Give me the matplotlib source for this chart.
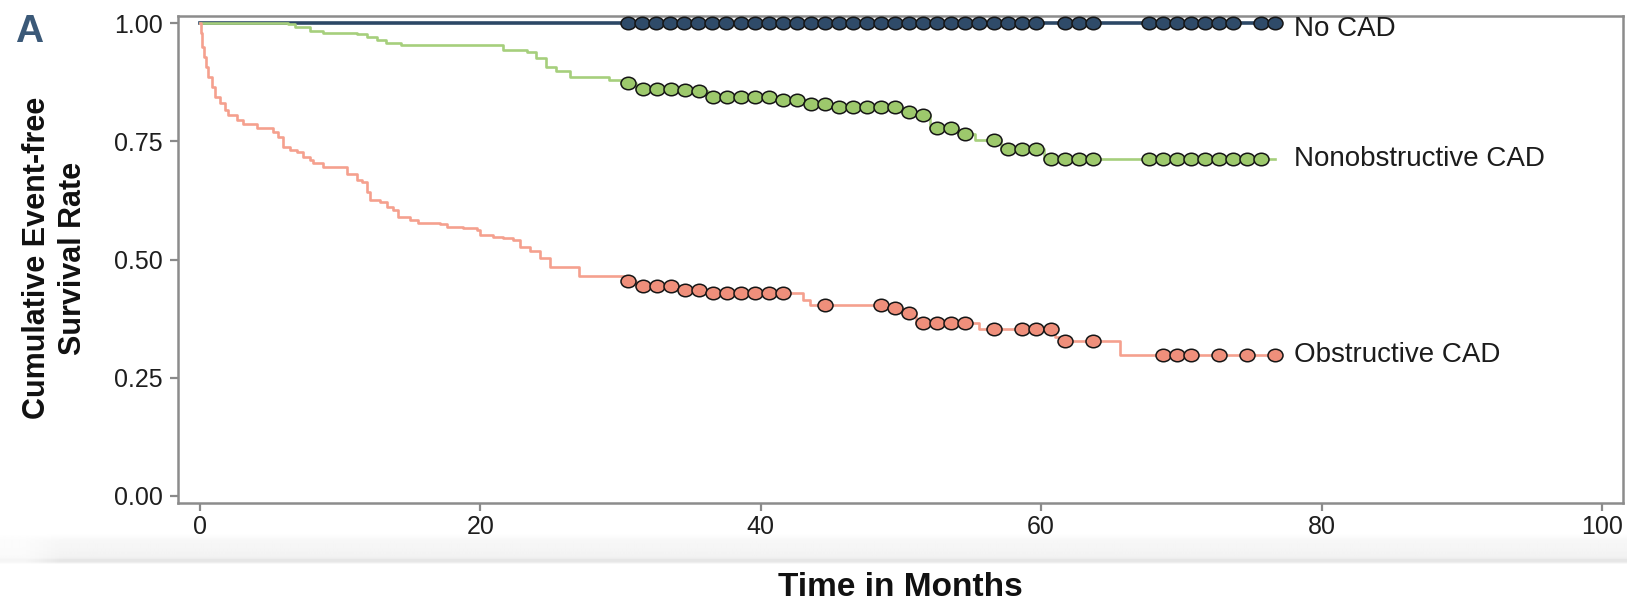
import numpy as np
import matplotlib.pyplot as plt
from matplotlib.path import Path
from matplotlib.transforms import Affine2D

plt.rcParams['font.family'] = ['Liberation Sans', 'DejaVu Sans']

# Kaplan-Meier steps: event time (months) and survival after the event
no_cad_events = [0.0]
no_cad_surv = [1.0]
no_cad_censor = [30.5, 31.5, 32.5, 33.5, 34.5, 35.5, 36.5, 37.5, 38.6, 39.6,
                 40.6, 41.6, 42.6, 43.6, 44.6, 45.6, 46.6, 47.6, 48.6, 49.6,
                 50.6, 51.6, 52.6, 53.6, 54.6, 55.6, 56.6, 57.6, 58.6, 59.6,
                 61.7, 62.7, 63.7,
                 67.7, 68.7, 69.7, 70.7, 71.7, 72.7, 73.7,
                 75.7, 76.7]

nonobs_events = [0.0, 6.3, 6.8, 7.85, 8.8, 11.2, 11.9, 12.6, 13.3, 14.3, 21.6,
                 23.3, 24.0, 24.7, 25.4, 26.4, 29.2, 30.0, 31.1, 34.2, 35.2,
                 36.2, 41.2, 43.2, 45.2, 50.1, 51.1, 52.1, 54.1, 55.3, 57.1,
                 60.2]
nonobs_surv = [1.0, 0.998, 0.993, 0.984, 0.979, 0.977, 0.972, 0.965, 0.958,
               0.953, 0.943, 0.940, 0.926, 0.908, 0.900, 0.886, 0.880, 0.873,
               0.862, 0.859, 0.857, 0.845, 0.838, 0.829, 0.823, 0.813, 0.807,
               0.778, 0.765, 0.753, 0.734, 0.713]
nonobs_censor = [30.5, 31.6, 32.6, 33.6, 34.6, 35.6, 36.6, 37.6, 38.6, 39.6,
                 40.6, 41.6, 42.6, 43.6, 44.6, 45.6, 46.6, 47.6, 48.6, 49.6,
                 50.6, 51.6, 52.6, 53.6, 54.6, 56.6, 57.6, 58.6, 59.6,
                 60.7, 61.7, 62.7, 63.7,
                 67.7, 68.7, 69.7, 70.7, 71.7, 72.7, 73.7, 74.7, 75.7]
nonobs_end = 76.7

obs_events = [0.0, 0.05, 0.15, 0.3, 0.45, 0.6, 0.83, 1.07, 1.43, 1.78, 2.02,
              2.62, 3.09, 4.04, 5.23, 5.59, 5.94, 6.42, 6.89, 7.37, 7.85,
              8.08, 8.8, 10.46, 11.17, 11.53, 11.89, 12.12, 12.84, 13.32,
              13.79, 14.15, 14.98, 15.57, 17.12, 17.59, 18.78, 19.74, 19.97,
              20.92, 21.64, 22.35, 22.83, 23.54, 24.25, 24.97, 27.0, 30.3,
              31.1, 34.1, 36.1, 43.0, 43.5, 49.1, 50.1, 51.1, 55.6, 61.0,
              61.3, 65.6]
obs_surv = [1.0, 0.979, 0.950, 0.929, 0.908, 0.887, 0.866, 0.845, 0.831,
            0.816, 0.806, 0.795, 0.787, 0.778, 0.771, 0.760, 0.739, 0.732,
            0.728, 0.718, 0.711, 0.704, 0.696, 0.682, 0.668, 0.665, 0.644,
            0.626, 0.622, 0.612, 0.605, 0.591, 0.584, 0.577, 0.575, 0.569,
            0.566, 0.562, 0.552, 0.547, 0.545, 0.541, 0.527, 0.519, 0.503,
            0.485, 0.465, 0.4545, 0.4446, 0.4354, 0.4297, 0.415, 0.4037,
            0.3967, 0.388, 0.366, 0.3529, 0.336, 0.328, 0.2978]
obs_censor = [30.5, 31.6, 32.6, 33.6, 34.6, 35.6, 36.6, 37.6, 38.6, 39.6,
              40.6, 41.6, 44.6, 48.6, 49.6, 50.6, 51.6, 52.6, 53.6, 54.6,
              56.6, 58.6, 59.6, 60.7, 61.7, 63.7,
              68.7, 69.7, 70.7, 72.7, 74.7, 76.7]

groups = ['No CAD', 'Nonobstructive CAD', 'Obstructive CAD']
label_y = [0.988, 0.713, 0.2978]
line_colors = ['#2c4866', '#a6cf7c', '#f5a08e']
fill_colors = ['#2f4b69', '#9dc96c', '#ef8f7b']

# slightly wide oval for the censor ticks
oval = Path.unit_circle().transformed(Affine2D().scale(1.2, 1.0))


def km_curve(events, surv, end):
    t = np.array(list(events) + [end])
    s = np.array(list(surv) + [surv[-1]])
    return t, s


def at_time(events, surv, times):
    idx = np.searchsorted(events, times, side='right') - 1
    return np.array(surv)[idx]


fig = plt.figure(figsize=(16.27, 6.02), dpi=100)

# soft grey band under the tick labels
band = fig.add_axes([0, 1 - 566 / 602, 1, 32 / 602], zorder=-5)
prof = np.array([1.0, 0.995, 0.99, 0.985, 0.98, 0.975, 0.97, 0.968, 0.966,
                 0.965, 0.964, 0.963, 0.962, 0.962, 0.961, 0.96, 0.96, 0.958,
                 0.956, 0.955, 0.954, 0.952, 0.95, 0.945, 0.93, 0.905, 0.9,
                 0.905, 0.93, 0.97, 1.0, 1.0])
fade = np.clip(np.linspace(0, 1627, 400) / 60.0, 0.4, 1.0)
img = 1 - np.outer(1 - prof, fade)
band.imshow(img, cmap='gray', vmin=0, vmax=1, aspect='auto',
            interpolation='bilinear')
band.axis('off')

ax = fig.add_axes([178.3 / 1627, 1 - 502.7 / 602, 1444.4 / 1627, 486.7 / 602])

data = [
    (no_cad_events, no_cad_surv, no_cad_censor, 76.7),
    (nonobs_events, nonobs_surv, nonobs_censor, nonobs_end),
    (obs_events, obs_surv, obs_censor, obs_censor[-1]),
]

for i in [2, 1, 0]:
    ev, sv, cens, end = data[i]
    t, s = km_curve(ev, sv, end)
    lw = 2.6 if i == 0 else 1.9
    ax.step(t, s, where='post', color=line_colors[i], lw=lw, zorder=2 + i)
    ax.plot(cens, at_time(ev, sv, cens), ls='none', marker=oval,
            markersize=10.8, markerfacecolor=fill_colors[i],
            markeredgecolor='#151515', markeredgewidth=1.1, zorder=6 + i)
    ax.text(78.0, label_y[i], groups[i], fontsize=20, color='#1c1c1c',
            va='center', ha='left', zorder=10)

ax.set_xlim(-1.55, 101.48)
ax.set_ylim(-0.0142, 1.0154)
ax.set_xticks([0, 20, 40, 60, 80, 100])
ax.set_yticks([0.0, 0.25, 0.5, 0.75, 1.0])
ax.set_yticklabels(['0.00', '0.25', '0.50', '0.75', '1.00'])
ax.tick_params(axis='both', length=6, width=1.6, color='#8a8a8a',
               labelsize=18, labelcolor='#1e1e1e', pad=5)
ax.tick_params(axis='x', pad=3)
for sp in ax.spines.values():
    sp.set_color('#8c8c8c')
    sp.set_linewidth(1.8)

fig.text(55 / 1627, 1 - 258 / 602, 'Cumulative Event-free\nSurvival Rate',
         rotation=90, ha='center', va='center', multialignment='center',
         fontsize=22, fontweight='bold', color='#111111', linespacing=1.3)
fig.text(900 / 1627, 1 - 587 / 602, 'Time in Months', ha='center',
         va='center', fontsize=24, fontweight='bold', color='#111111')
fig.text(29 / 1627, 1 - 32 / 602, 'A', ha='center', va='center',
         fontsize=28, fontweight='bold', color='#3b5978')

fig.savefig('out.png', dpi=100)
